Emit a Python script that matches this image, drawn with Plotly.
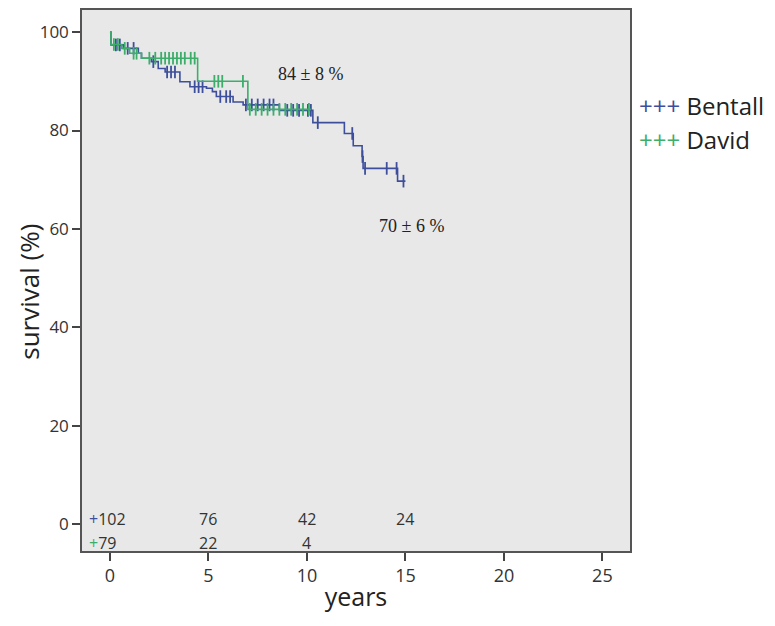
import numpy as np
import plotly.graph_objects as go

# ---- data ----
bentall_t = [0, 0.05, 0.68, 1.44, 1.6, 2.1, 2.45, 2.8, 3.55, 4.06, 4.9, 5.2, 5.4, 6.25, 6.76, 8.6, 10.3, 11.9, 12.35, 12.8, 12.85, 14.6, 15.0]
bentall_s = [100, 97.4, 96.7, 95.7, 94.7, 94.0, 92.6, 91.9, 89.9, 88.9, 88.6, 87.9, 86.9, 85.8, 85.2, 84.1, 81.6, 79.4, 76.9, 74.7, 72.3, 69.7, 69.7]
bentall_censor = [0.3, 0.5, 0.9, 1.2, 2.2, 2.9, 3.1, 3.3, 4.3, 4.5, 4.7, 5.6, 5.9, 6.1, 6.9, 7.2, 7.5, 7.8, 8.1, 8.3,
                  9.0, 9.3, 9.6, 10.05, 10.2, 10.55, 12.3, 12.82, 12.95, 14.05, 14.55, 14.9]

david_t = [0, 0.05, 0.6, 1.0, 1.6, 4.45, 7.0, 10.2]
david_s = [100, 97.5, 96.7, 95.7, 94.7, 90.0, 84.3, 84.3]
david_censor = [0.2, 0.4, 0.75, 1.2, 1.35, 2.0, 2.3, 2.6, 2.8, 3.0, 3.2, 3.4, 3.6, 3.8, 4.1, 4.3,
                5.3, 5.5, 5.7, 6.75, 7.1, 7.4, 7.7, 8.0, 8.3, 8.6, 8.9, 9.2, 9.5, 9.8, 10.1]

risk_times = [0, 5, 10, 15]
bentall_risk = ["102", "76", "42", "24"]
david_risk = ["79", "22", "4"]

group_names = ["Bentall", "David"]
group_colors = ["#3d4f9c", "#3cae6a"]
ann_labels = ["70 ± 6 %", "84 ± 8 %"]

x_ticks = [0, 5, 10, 15, 20, 25]
y_ticks = [0, 20, 40, 60, 80, 100]


def step_value(times, surv, t):
    idx = np.searchsorted(np.array(times), t, side="right") - 1
    return np.array(surv)[idx]


fig = go.Figure()
groups = [(bentall_t, bentall_s, bentall_censor), (david_t, david_s, david_censor)]
for (t, s, c), name, col in zip(groups, group_names, group_colors):
    fig.add_trace(go.Scatter(x=t, y=s, mode="lines", line=dict(color=col, width=1.6, shape="hv"),
                             name=name, showlegend=False, hoverinfo="skip"))
    fig.add_trace(go.Scatter(x=c, y=step_value(t, s, c), mode="markers",
                             marker=dict(symbol="line-ns", size=9, line=dict(color=col, width=1.8)),
                             showlegend=False, hoverinfo="skip"))

font_main = "Open Sans, DejaVu Sans, sans-serif"

annotations = []
# survival estimates
annotations.append(dict(x=15.3, y=60.6, text=ann_labels[0], showarrow=False, xref="x", yref="y",
                        font=dict(family="Liberation Serif, serif", size=18, color="#222")))
annotations.append(dict(x=10.2, y=91.4, text=ann_labels[1], showarrow=False, xref="x", yref="y",
                        font=dict(family="Liberation Serif, serif", size=18, color="#222")))
# numbers at risk
for i, (tt, v) in enumerate(zip(risk_times, bentall_risk)):
    txt = f'<span style="color:{group_colors[0]}">+</span>{v}' if i == 0 else v
    annotations.append(dict(x=tt if i else -1.15, y=1.0, text=txt, showarrow=False, xref="x", yref="y",
                            xanchor="left" if i == 0 else "center",
                            font=dict(family=font_main, size=16, color="#333")))
for i, (tt, v) in enumerate(zip(risk_times, david_risk)):
    txt = f'<span style="color:{group_colors[1]}">+</span>{v}' if i == 0 else v
    annotations.append(dict(x=tt if i else -1.15, y=-3.9, text=txt, showarrow=False, xref="x", yref="y",
                            xanchor="left" if i == 0 else "center",
                            font=dict(family=font_main, size=16, color="#333")))
# legend (outside the plot, right side)
for k, (name, col) in enumerate(zip(group_names, group_colors)):
    annotations.append(dict(x=1.012, y=0.824 - k * 0.063, xref="paper", yref="paper", xanchor="left",
                            yanchor="middle", showarrow=False,
                            text=f'<span style="color:{col}">+++</span> {name}',
                            font=dict(family=font_main, size=24, color="#222")))
# y-axis title
annotations.append(dict(x=-0.096, y=0.48, xref="paper", yref="paper", xanchor="center", yanchor="middle",
                        showarrow=False, textangle=-90, text="survival (%)",
                        font=dict(family=font_main, size=26, color="#222")))

# the page body adds an 8 px offset, so the figure is sized to fit the window
fig.update_layout(
    width=767, height=618,
    margin=dict(l=74, r=145, t=2, b=75),
    paper_bgcolor="white",
    plot_bgcolor="#e8e8e8",
    font=dict(family=font_main, color="#333"),
    annotations=annotations,
    showlegend=False,
)
fig.update_xaxes(range=[-1.42, 26.4], tickvals=x_ticks, ticks="outside", ticklen=8, tickwidth=1.5,
                 tickcolor="#444", showgrid=False, zeroline=False, showline=True, mirror=True,
                 linecolor="#555", linewidth=1.5, tickfont=dict(size=18, color="#333"), automargin=False,
                 title=dict(text="years", font=dict(size=25, color="#222"), standoff=2))
fig.update_yaxes(range=[-5.5, 104.5], tickvals=y_ticks, ticks="outside", ticklen=8, tickwidth=1.5,
                 tickcolor="#444", showgrid=False, zeroline=False, showline=True, mirror=True,
                 linecolor="#555", linewidth=1.5, tickfont=dict(size=17, color="#333"), automargin=False)

fig.write_html("out.html")
